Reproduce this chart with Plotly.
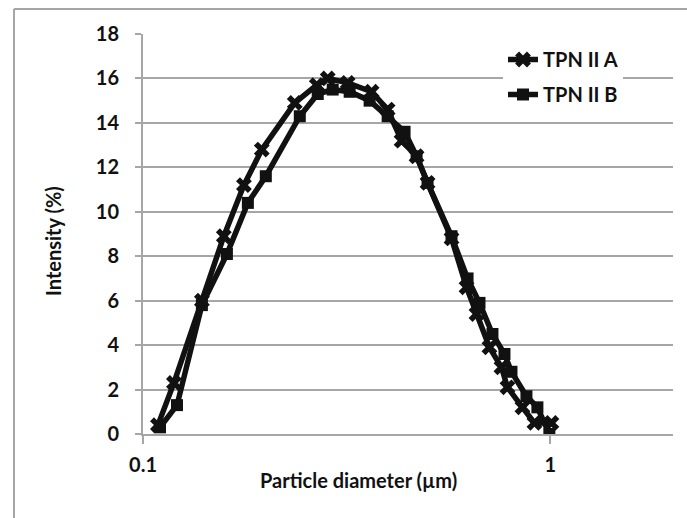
import plotly.graph_objects as go

# Series A (TPN II A)
a_x = [0.1088, 0.1191, 0.1395, 0.1579, 0.1769, 0.1957, 0.2358, 0.2670, 0.2841,
       0.3180, 0.3641, 0.3986, 0.4313, 0.4694, 0.4995, 0.5719, 0.6226, 0.6587,
       0.7087, 0.7585, 0.7847, 0.8540, 0.9138, 1.006]
a_y = [0.4, 2.3, 6.0, 8.9, 11.2, 12.8, 14.9, 15.7, 16.0,
       15.8, 15.4, 14.6, 13.2, 12.5, 11.3, 8.8, 6.6, 5.4,
       3.9, 3.0, 2.1, 1.2, 0.5, 0.5]

# Series B (TPN II B)
b_x = [0.1101, 0.1212, 0.1395, 0.1607, 0.1809, 0.2002, 0.2426, 0.2685, 0.2922,
       0.3216, 0.3600, 0.3986, 0.4386, 0.4694, 0.4995, 0.5719, 0.6262, 0.6699,
       0.7208, 0.7715, 0.8026, 0.8735, 0.9293, 0.9943]
b_y = [0.3, 1.3, 5.8, 8.1, 10.4, 11.6, 14.3, 15.3, 15.5,
       15.4, 15.0, 14.3, 13.6, 12.5, 11.3, 8.9, 7.0, 5.9,
       4.5, 3.6, 2.8, 1.7, 1.2, 0.0]

names = ["TPN II A", "TPN II B"]
x_tickvals = [0.1, 1]
x_ticktext = ["0.1", "1"]
y_tickvals = list(range(0, 19, 2))

FONT = "Lato"
FS = 20
INK = "#111111"
GRID = "#a6a6a6"

W, H = 687, 518
L, R, T, B = 143, 14, 34, 84
pw, ph = W - L - R, H - T - B

def px(xp):
    return (xp - L) / pw

def py(yp):
    return (H - B - yp) / ph

def f(size=FS):
    return dict(family=FONT, size=size, color=INK, weight="bold")

fig = go.Figure()
fig.add_trace(go.Scatter(
    x=a_x, y=a_y, name=names[0], mode="lines+markers", legendgroup="a",
    line=dict(color=INK, width=5.5),
    marker=dict(symbol="x", size=14, color=INK, line=dict(width=0)),
))
fig.add_trace(go.Scatter(
    x=b_x, y=b_y, name=names[1], mode="lines+markers", legendgroup="b",
    line=dict(color=INK, width=5.5),
    marker=dict(symbol="square", size=12, color=INK, line=dict(width=0)),
))

fig.update_layout(
    width=W, height=H,
    margin=dict(l=L, r=R, t=T, b=B, autoexpand=False),
    paper_bgcolor="white", plot_bgcolor="white",
    font=f(),
    showlegend=True,
    legend=dict(
        x=px(503), y=py(40), xanchor="left", yanchor="top",
        bgcolor="white", borderwidth=0,
        font=f(),
        traceorder="grouped", tracegroupgap=6,
        itemwidth=30,
    ),
    xaxis=dict(
        type="log", range=[-1, 0.30103],
        tickvals=x_tickvals, ticktext=x_ticktext,
        showgrid=False, zeroline=False,
        showline=True, linecolor=GRID, linewidth=2,
        ticks="outside", ticklen=8, tickwidth=2, tickcolor=GRID,
        ticklabelstandoff=4,
        tickfont=f(),
    ),
    yaxis=dict(
        range=[0, 18], tickvals=y_tickvals,
        showgrid=True, gridcolor=GRID, gridwidth=2,
        zeroline=False,
        showline=True, linecolor=GRID, linewidth=2,
        ticks="outside", ticklen=6, tickwidth=2, tickcolor=GRID,
        ticklabelstandoff=12,
        tickfont=f(),
    ),
    annotations=[
        dict(text="Particle diameter (µm)", xref="paper", yref="paper",
             x=px(358), y=py(480), xanchor="center", yanchor="middle",
             showarrow=False, font=f()),
        dict(text="Intensity (%)", xref="paper", yref="paper",
             x=px(53), y=py(241), xanchor="center", yanchor="middle",
             showarrow=False, textangle=-90, font=f()),
    ],
    shapes=[
        dict(type="line", xref="paper", yref="paper",
             x0=px(14), x1=px(700), y0=py(9), y1=py(9),
             line=dict(color=GRID, width=2)),
        dict(type="line", xref="paper", yref="paper",
             x0=px(14), x1=px(14), y0=py(9), y1=py(530),
             line=dict(color=GRID, width=2)),
    ],
)

fig.write_html("out.html", config={"displayModeBar": False},
               post_script="document.body.style.margin='0';document.body.style.padding='0';")
